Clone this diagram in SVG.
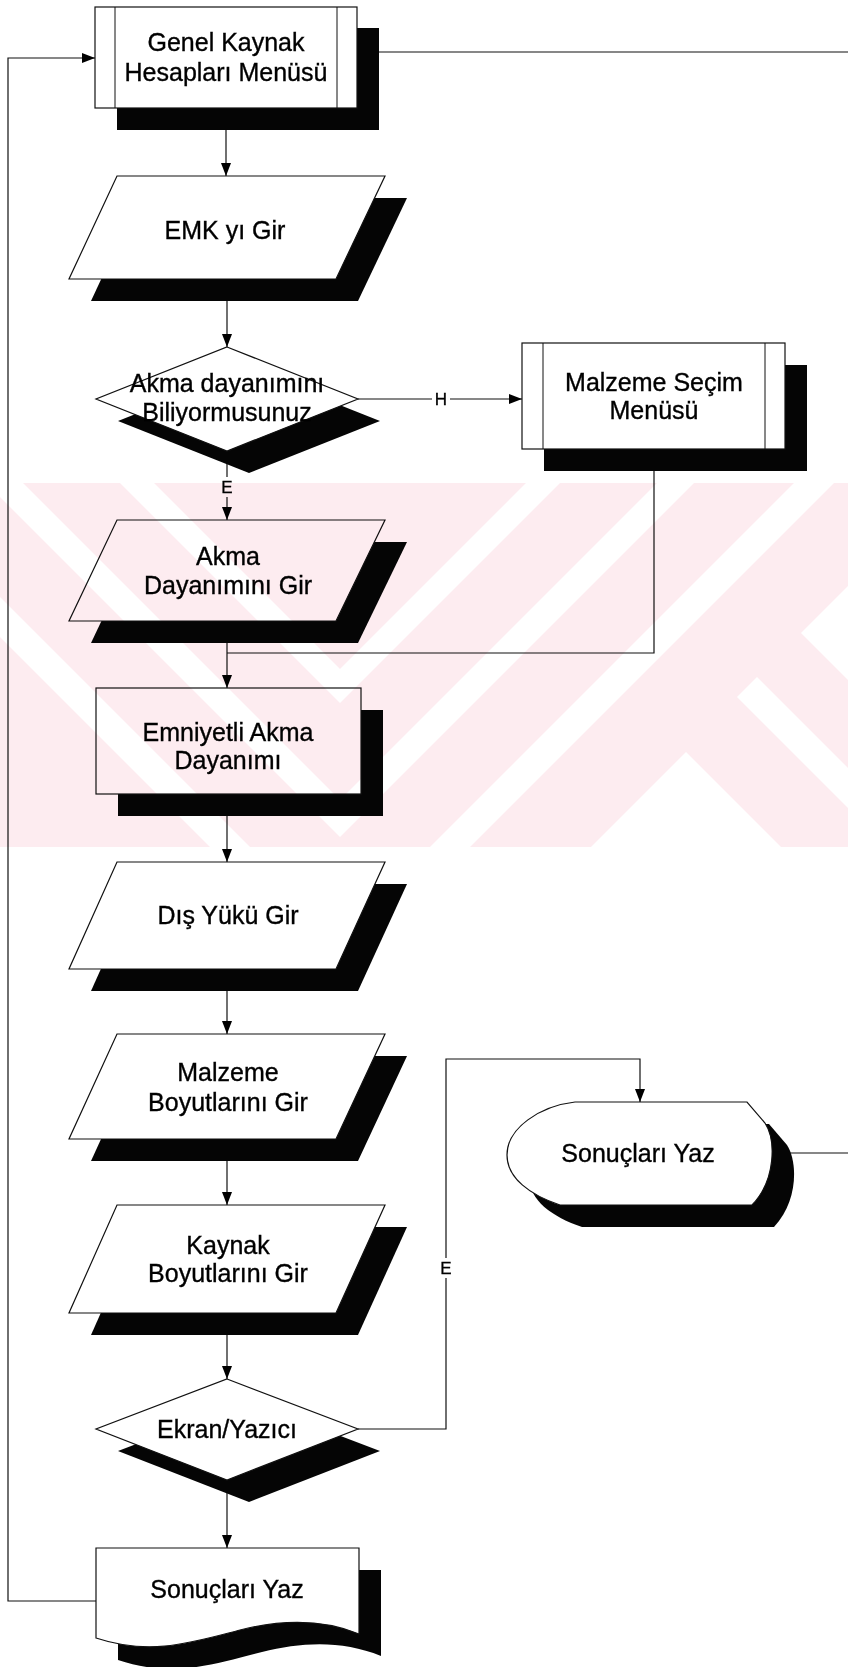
<svg xmlns="http://www.w3.org/2000/svg" width="848" height="1667" viewBox="0 0 848 1667">
<style>
  .shape { fill: #fff; stroke: #111; stroke-width: 1.2; }
  .shadow { fill: #050505; }
  .line { fill: none; stroke: #111; stroke-width: 1.2; }
  .inner { stroke: #111; stroke-width: 1; }
  .lbl { font-family: "Liberation Sans", Arial, sans-serif; font-size: 25px; fill: #000; stroke: #000; stroke-width: 0.35; text-anchor: middle; }
  .tag { font-family: "Liberation Sans", Arial, sans-serif; font-size: 17px; fill: #000; stroke: #000; stroke-width: 0.3; text-anchor: middle; }
</style>
<defs>
  <marker id="arrow" viewBox="0 0 13 10" refX="13" refY="5" markerWidth="13" markerHeight="10" markerUnits="userSpaceOnUse" orient="auto">
    <path d="M0,0 L13,5 L0,10 Z" fill="#000"/>
  </marker>
  <clipPath id="band"><rect x="0" y="483" width="848" height="364"/></clipPath>
</defs>

<rect x="0" y="0" width="848" height="1667" fill="#fff"/>

<!-- connectors -->
<g id="connectors">
  <path class="line" d="M226,108 V176" marker-end="url(#arrow)"/>
  <path class="line" d="M227,279 V347" marker-end="url(#arrow)"/>
  <path class="line" d="M358,399 H522" marker-end="url(#arrow)"/>
  <path class="line" d="M227,451 V520" marker-end="url(#arrow)"/>
  <path class="line" d="M654,449 V653 H227"/>
  <path class="line" d="M227,621 V688" marker-end="url(#arrow)"/>
  <path class="line" d="M227,794 V862" marker-end="url(#arrow)"/>
  <path class="line" d="M227,969 V1034" marker-end="url(#arrow)"/>
  <path class="line" d="M227,1139 V1205" marker-end="url(#arrow)"/>
  <path class="line" d="M227,1313 V1379" marker-end="url(#arrow)"/>
  <path class="line" d="M358,1429 H446 V1059 H640 V1102" marker-end="url(#arrow)"/>
  <path class="line" d="M227,1480 V1548" marker-end="url(#arrow)"/>
  <path class="line" d="M96,1601 H8 V58 H95" marker-end="url(#arrow)"/>
  <path class="line" d="M357,52 H848"/>
  <path class="line" d="M772,1153 H848"/>
  <!-- branch labels -->
  <rect x="432" y="389" width="18" height="20" fill="#fff"/>
  <text class="tag" transform="translate(441,405)">H</text>
  <rect x="219" y="477" width="16" height="20" fill="#fff"/>
  <text class="tag" transform="translate(227,493)">E</text>
  <rect x="438" y="1258" width="16" height="20" fill="#fff"/>
  <text class="tag" transform="translate(446,1274)">E</text>
</g>

<!-- Genel Kaynak Hesapları Menüsü (predefined process) -->
<g id="genel-kaynak">
  <rect class="shadow" x="117" y="28" width="262" height="102"/>
  <rect class="shape" x="95" y="7" width="262" height="101"/>
  <line class="inner" x1="115" y1="7" x2="115" y2="108"/>
  <line class="inner" x1="337" y1="7" x2="337" y2="108"/>
  <text class="lbl" x="226" y="51">Genel Kaynak</text>
  <text class="lbl" x="226" y="81">Hesapları Menüsü</text>
</g>

<!-- EMK yı Gir -->
<g id="emk-gir">
  <path class="shadow" d="M139,198 L407,198 L358,301 L91,301 Z"/>
  <path class="shape" d="M117,176 L385,176 L336,279 L69,279 Z"/>
  <text class="lbl" x="225" y="239">EMK yı Gir</text>
</g>

<!-- Akma dayanımını Biliyormusunuz (decision) -->
<g id="akma-karar">
  <path class="shadow" d="M249,369 L380,421 L249,473 L118,421 Z"/>
  <path class="shape" d="M227,347 L358,399 L227,451 L96,399 Z"/>
  <text class="lbl" x="227" y="392">Akma dayanımını</text>
  <text class="lbl" x="227" y="421">Biliyormusunuz</text>
</g>

<!-- Malzeme Seçim Menüsü (predefined process) -->
<g id="malzeme-secim">
  <rect class="shadow" x="544" y="365" width="263" height="106"/>
  <rect class="shape" x="522" y="343" width="263" height="106"/>
  <line class="inner" x1="543" y1="343" x2="543" y2="449"/>
  <line class="inner" x1="765" y1="343" x2="765" y2="449"/>
  <text class="lbl" x="654" y="391">Malzeme Seçim</text>
  <text class="lbl" x="654" y="419">Menüsü</text>
</g>

<!-- Akma Dayanımını Gir -->
<g id="akma-gir">
  <path class="shadow" d="M139,542 L407,542 L358,643 L91,643 Z"/>
  <path class="shape" d="M117,520 L385,520 L336,621 L69,621 Z"/>
  <text class="lbl" x="228" y="565">Akma</text>
  <text class="lbl" x="228" y="594">Dayanımını Gir</text>
</g>

<!-- Emniyetli Akma Dayanımı (process) -->
<g id="emniyetli">
  <rect class="shadow" x="118" y="710" width="265" height="106"/>
  <rect class="shape" x="96" y="688" width="265" height="106"/>
  <text class="lbl" x="228" y="741">Emniyetli Akma</text>
  <text class="lbl" x="228" y="769">Dayanımı</text>
</g>

<!-- Dış Yükü Gir -->
<g id="dis-yuk">
  <path class="shadow" d="M139,884 L407,884 L358,991 L91,991 Z"/>
  <path class="shape" d="M117,862 L385,862 L336,969 L69,969 Z"/>
  <text class="lbl" x="228" y="924">Dış Yükü Gir</text>
</g>

<!-- Malzeme Boyutlarını Gir -->
<g id="malzeme-boyut">
  <path class="shadow" d="M139,1056 L407,1056 L358,1161 L91,1161 Z"/>
  <path class="shape" d="M117,1034 L385,1034 L336,1139 L69,1139 Z"/>
  <text class="lbl" x="228" y="1081">Malzeme</text>
  <text class="lbl" x="228" y="1111">Boyutlarını Gir</text>
</g>

<!-- Kaynak Boyutlarını Gir -->
<g id="kaynak-boyut">
  <path class="shadow" d="M139,1227 L407,1227 L358,1335 L91,1335 Z"/>
  <path class="shape" d="M117,1205 L385,1205 L336,1313 L69,1313 Z"/>
  <text class="lbl" x="228" y="1254">Kaynak</text>
  <text class="lbl" x="228" y="1282">Boyutlarını Gir</text>
</g>

<!-- Sonuçları Yaz (display) -->
<g id="sonuc-ekran">
  <path class="shadow" d="M597,1124 L769,1124 L787,1145 C798,1162 798,1202 774,1227 L582,1227 C552,1217 529,1200 529,1177 C529,1150 562,1128 597,1124 Z"/>
  <path class="shape" d="M575,1102 L747,1102 L765,1123 C776,1140 776,1180 752,1205 L560,1205 C530,1195 507,1178 507,1155 C507,1128 540,1106 575,1102 Z"/>
  <text class="lbl" x="638" y="1162">Sonuçları Yaz</text>
</g>

<!-- Ekran/Yazıcı (decision) -->
<g id="ekran-yazici">
  <path class="shadow" d="M249,1401 L380,1451 L249,1502 L118,1451 Z"/>
  <path class="shape" d="M227,1379 L358,1429 L227,1480 L96,1429 Z"/>
  <text class="lbl" x="227" y="1438">Ekran/Yazıcı</text>
</g>

<!-- Sonuçları Yaz (document) -->
<g id="sonuc-yazici">
  <path class="shadow" d="M118,1570 H381 V1656 C342,1640 302,1642 262,1652 C212,1665 172,1678 118,1660 Z"/>
  <path class="shape" d="M96,1548 H359 V1634 C320,1618 280,1620 240,1630 C190,1643 150,1656 96,1638 Z"/>
  <text class="lbl" x="227" y="1598">Sonuçları Yaz</text>
</g>

<!-- faint emblem printed across the middle of the sheet -->
<g id="watermark" style="mix-blend-mode:multiply">
  <g clip-path="url(#band)">
    <rect x="0" y="483" width="848" height="364" fill="#fdecf0"/>
    <g fill="#fff">
      <polygon points="120,483 340,703 560,483 526,483 340,669 154,483"/>
      <polygon points="-14,483 340,837 694,483 657,483 340,800 23,483"/>
      <polygon points="-154,483 340,977 834,483 794,483 340,937 -114,483"/>
      <polygon points="801,633 1000,434 1000,832"/>
      <polygon points="757,677 1000,920 1000,960 737,697"/>
      <polygon points="686,752 586,852 786,852"/>
    </g>
  </g>
</g>
</svg>
